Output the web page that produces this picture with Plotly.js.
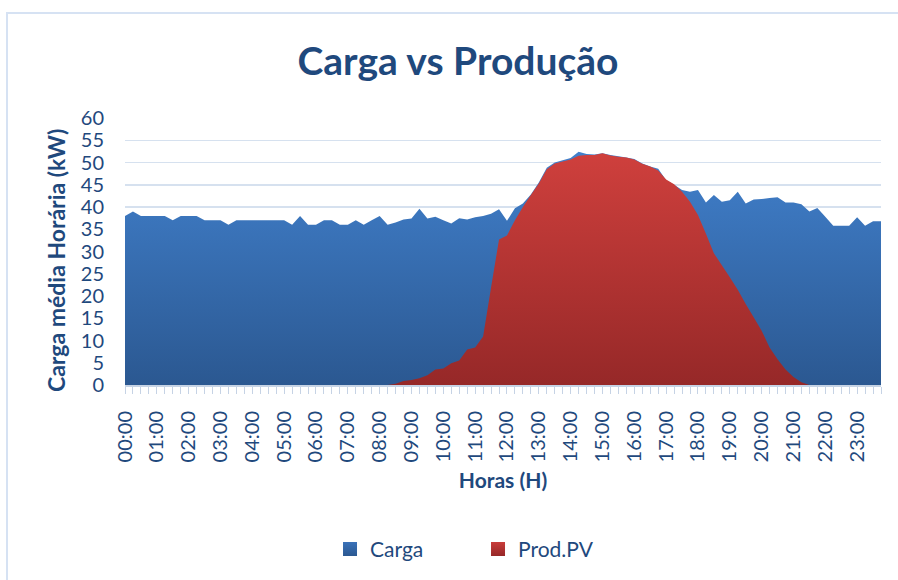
<!DOCTYPE html>
<html>
<head>
<meta charset="utf-8">
<script src="https://cdn.plot.ly/plotly-3.0.1.min.js"></script>
<style>
html,body{margin:0;padding:0;background:#fff;overflow:hidden;}
#wrap{position:relative;width:898px;height:580px;}
#chart{position:absolute;left:0;top:0;width:898px;height:580px;}
#frame{position:absolute;left:6px;top:12px;width:1000px;height:1000px;border-left:2px solid #d6e2f3;border-top:2px solid #d6e2f3;pointer-events:none;}
</style>
</head>
<body>
<div id="wrap"><div id="chart"></div><div id="frame"></div></div>
<script>
// 15-minute slots over one day
const hours = ["00","01","02","03","04","05","06","07","08","09","10","11","12","13","14","15","16","17","18","19","20","21","22","23"];
const quarters = ["00","15","30","45"];
const times = [];
hours.forEach(h => quarters.forEach(q => times.push("2000-01-01 " + h + ":" + q)));
const hourTicks = hours.map(h => "2000-01-01 " + h + ":00");
const hourLabels = hours.map(h => h + ":00");

const carga = [
  38, 39, 38, 38, 38, 38, 37, 38, 38, 38, 37, 37,
  37, 36, 37, 37, 37, 37, 37, 37, 37, 36, 38, 36,
  36, 37, 37, 36, 36, 37, 36, 37, 38, 36, 36.5, 37.2,
  37.4, 39.6, 37.4, 37.8, 37, 36.3, 37.5, 37.2, 37.7, 38, 38.5, 39.5,
  36.9, 39.7, 40.8, 42.8, 45.5, 48.8, 50, 50.5, 51, 52.4, 51.9, 51.8,
  52.1, 51.7, 51.4, 51.1, 50.8, 49.8, 49.1, 48.6, 46, 45, 43.8, 43.4,
  43.8, 41, 42.7, 41.2, 41.5, 43.4, 40.8, 41.7, 41.8, 42, 42.2, 41,
  41, 40.6, 39, 39.8, 37.8, 35.8, 35.8, 35.8, 37.7, 35.8, 36.8, 36.8
];
const prodPV = [
  0, 0, 0, 0, 0, 0, 0, 0, 0, 0, 0, 0,
  0, 0, 0, 0, 0, 0, 0, 0, 0, 0, 0, 0,
  0, 0, 0, 0, 0, 0, 0, 0, 0, 0, 0.3, 0.9,
  1.1, 1.5, 2.2, 3.5, 3.7, 4.9, 5.5, 8.0, 8.4, 10.9, 21.9, 32.7,
  33.6, 37, 40, 42.7, 45.3, 48.5, 49.8, 50.2, 50.7, 51.5, 51.7, 51.7,
  52.1, 51.6, 51.3, 51.1, 50.7, 49.7, 49.1, 48.2, 46.2, 45.1, 43.4, 41.2,
  38.2, 34, 29.6, 26.9, 24.2, 21.4, 18.2, 15.2, 12.2, 8.4, 5.8, 3.5,
  1.8, 0.6, 0, 0, 0, 0, 0, 0, 0, 0, 0, 0
];
const seriesNames = ["Carga", "Prod.PV"];

const textColor = "#1f497d";
const font = "Lato, 'Noto Sans', sans-serif";
const axisColor = "#c6d3e5";

const traces = [
  {
    x: times, y: carga, type: "scatter", mode: "none", fill: "tozeroy",
    fillgradient: {type: "vertical", start: 0, stop: 55,
      colorscale: [[0, "#2b5891"], [1, "#4282cf"]]},
    showlegend: false, hoverinfo: "skip"
  },
  {
    x: times, y: prodPV, type: "scatter", mode: "none", fill: "tozeroy",
    fillgradient: {type: "vertical", start: 0, stop: 55,
      colorscale: [[0, "#962828"], [1, "#d2413e"]]},
    showlegend: false, hoverinfo: "skip"
  },
  {
    x: [null], y: [null], type: "scatter", mode: "markers", name: seriesNames[0],
    marker: {symbol: "square", size: 14, color: "#3a72b9",
      gradient: {type: "vertical", color: "#2b5891"}}
  },
  {
    x: [null], y: [null], type: "scatter", mode: "markers", name: seriesNames[1],
    marker: {symbol: "square", size: 14, color: "#c93c3a",
      gradient: {type: "vertical", color: "#962828"}}
  }
];

const layout = {
  width: 898, height: 580,
  margin: {l: 125, r: 17, t: 118, b: 195},
  paper_bgcolor: "#ffffff", plot_bgcolor: "#ffffff",
  font: {family: font, color: textColor},
  title: {
    text: "<b>Carga vs Produção</b>",
    font: {family: font, size: 39, color: textColor},
    xref: "container", x: 0.51, xanchor: "center",
    yref: "container", y: 0.895, yanchor: "middle"
  },
  xaxis: {
    type: "date",
    range: [times[0], times[times.length - 1]],
    tickmode: "array", tickvals: hourTicks, ticktext: hourLabels,
    tickangle: -90,
    tickfont: {family: font, size: 20, color: textColor},
    ticks: "outside", ticklen: 7, tickwidth: 1, tickcolor: axisColor,
    ticklabelstandoff: 9,
    minor: {dtick: 900000, tick0: times[0], ticks: "outside", ticklen: 7, tickwidth: 1, tickcolor: axisColor, showgrid: false},
    showline: true, linecolor: axisColor, linewidth: 2,
    showgrid: false, zeroline: false, fixedrange: true,
    title: {text: "<b>Horas (H)</b>", font: {family: font, size: 21, color: textColor}, standoff: 12}
  },
  yaxis: {
    range: [0, 60], dtick: 5, tick0: 0,
    tickfont: {family: font, size: 20, color: textColor},
    ticks: "", ticklabelstandoff: 20,
    showgrid: true, gridcolor: "#d6e1ef", gridwidth: 1.5,
    zeroline: false, showline: false, fixedrange: true
  },
  annotations: [{
    text: "<b>Carga média Horária (kW)</b>",
    font: {family: font, size: 23, color: textColor},
    textangle: -90, showarrow: false,
    xref: "paper", x: -0.0913, xanchor: "center",
    yref: "paper", y: 0.468, yanchor: "middle"
  }],
  showlegend: true,
  legend: {
    orientation: "h",
    xref: "container", x: 0.3675, xanchor: "left",
    yref: "container", y: 0.053, yanchor: "middle",
    font: {family: font, size: 21, color: textColor},
    entrywidth: 103, entrywidthmode: "pixels",
    itemwidth: 30, bgcolor: "rgba(0,0,0,0)"
  }
};

Plotly.newPlot("chart", traces, layout, {staticPlot: true, displayModeBar: false});
</script>
</body>
</html>
